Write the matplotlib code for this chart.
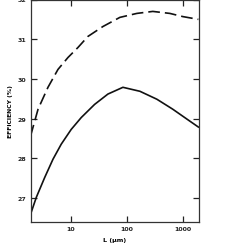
import matplotlib
matplotlib.use('Agg')
import matplotlib.pyplot as plt
from matplotlib.ticker import FixedLocator, NullLocator

# values (L in micrometres, efficiency in %)
dashed_L = [1.89, 2.58, 3.88, 5.86, 8.84, 13.3, 20.1, 37.3, 75, 151, 291, 586, 1000, 1900]
dashed_eff = [28.56, 29.24, 29.79, 30.24, 30.54, 30.79, 31.07, 31.32, 31.55, 31.65, 31.70, 31.65, 31.57, 31.50]

solid_L = [1.92, 2.40, 3.39, 4.77, 6.71, 10.1, 15.3, 26.5, 45.8, 85, 171, 344, 660, 1333, 1900]
solid_eff = [26.62, 27.02, 27.52, 27.98, 28.36, 28.73, 29.03, 29.36, 29.62, 29.79, 29.69, 29.49, 29.24, 28.94, 28.79]

x_ticks = [10, 100, 1000]
x_ticklabels = ['10', '100', '1000']
y_ticks = [27, 28, 29, 30, 31, 32]


def main():
    fig = plt.figure(figsize=(2.43, 2.53), dpi=100)
    ax = fig.add_axes([30.5 / 243, 1 - 223 / 253, (199 - 30.5) / 243, 222.5 / 253])

    ax.plot(dashed_L, dashed_eff, color='#111111', lw=1.2, dashes=(7, 3))
    ax.plot(solid_L, solid_eff, color='#111111', lw=1.2)

    ax.set_xscale('log')
    ax.set_xlim(1.89, 1950)
    ax.set_ylim(26.4, 32.0)

    ax.xaxis.set_major_locator(FixedLocator(x_ticks))
    ax.xaxis.set_minor_locator(NullLocator())
    ax.set_xticklabels(x_ticklabels)
    ax.set_yticks(y_ticks)
    ax.tick_params(direction='in', length=4, width=0.9, labelsize=4.5, pad=3,
                   top=True, right=True, colors='#222222')
    for lbl in ax.get_xticklabels() + ax.get_yticklabels():
        lbl.set_fontweight('bold')

    for sp in ax.spines.values():
        sp.set_linewidth(0.9)
        sp.set_color('#333333')

    ax.set_xlabel('L (\u03bcm)', fontsize=4.6, fontweight='bold', labelpad=4)
    ax.set_ylabel('EFFICIENCY (%)', fontsize=4.4, fontweight='bold', labelpad=3)

    fig.savefig('out.png', dpi=100)


if __name__ == '__main__':
    main()
